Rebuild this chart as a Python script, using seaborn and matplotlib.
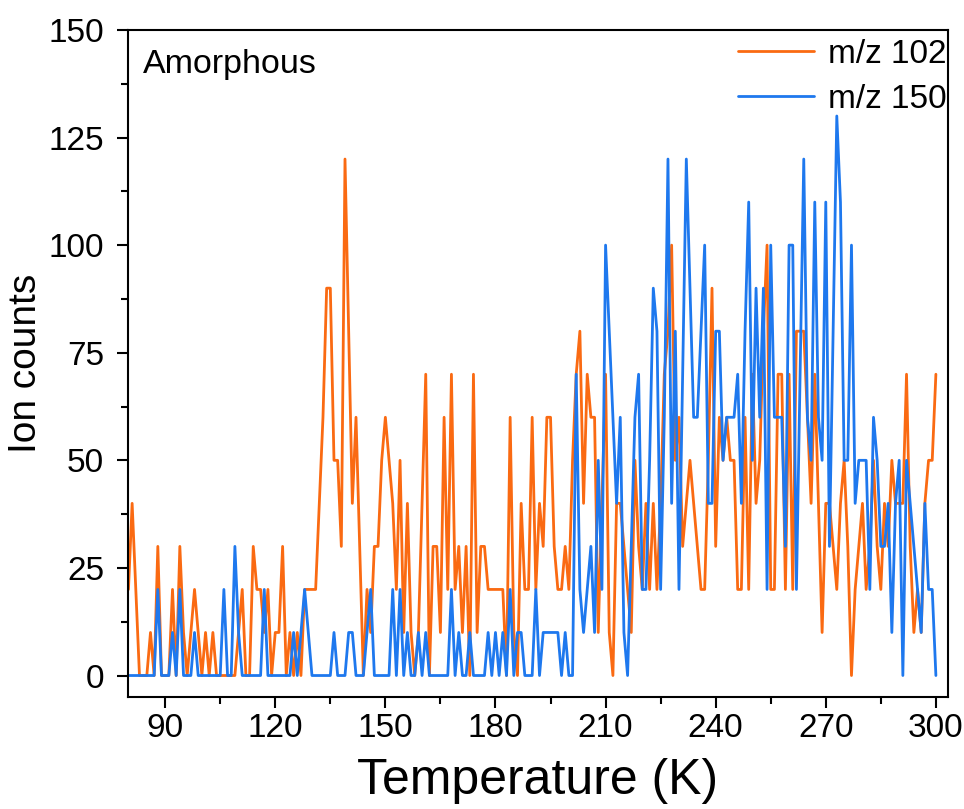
import matplotlib
matplotlib.use("Agg")
import numpy as np
import pandas as pd
import matplotlib.pyplot as plt
import seaborn as sns
from matplotlib.ticker import MultipleLocator

# temperature ramp, one reading per kelvin
temperature = list(range(80, 301))

# ion counts, 80 K ... 300 K
mz102 = [20, 40, 20, 0, 0, 0, 10, 0, 30, 0,
         0, 0, 20, 0, 30, 10, 0, 10, 20, 10,
         0, 10, 0, 10, 0, 0, 0, 0, 0, 0,
         10, 20, 0, 0, 30, 20, 20, 10, 20, 0,
         10, 10, 30, 0, 10, 0, 10, 0, 20, 20,
         20, 20, 40, 60, 90, 90, 50, 50, 30, 120,
         80, 40, 60, 30, 0, 20, 10, 30, 30, 50,
         60, 50, 40, 20, 50, 10, 40, 10, 0, 10,
         40, 70, 0, 30, 30, 10, 60, 20, 70, 20,
         30, 10, 30, 0, 70, 10, 30, 30, 20, 20,
         20, 20, 20, 0, 60, 10, 0, 40, 20, 20,
         60, 20, 40, 30, 60, 60, 30, 20, 20, 30,
         20, 50, 70, 80, 40, 70, 60, 60, 10, 40,
         70, 10, 0, 40, 40, 30, 20, 10, 50, 30,
         20, 40, 20, 40, 20, 40, 70, 80, 100, 50,
         60, 30, 40, 50, 40, 30, 20, 20, 50, 90,
         30, 60, 50, 60, 50, 50, 20, 20, 60, 20,
         70, 40, 50, 80, 100, 20, 20, 70, 70, 20,
         70, 20, 80, 80, 80, 60, 40, 70, 40, 10,
         40, 40, 30, 20, 40, 50, 30, 0, 20, 30,
         40, 20, 30, 50, 30, 20, 40, 30, 50, 40,
         40, 40, 70, 30, 10, 20, 10, 40, 50, 50,
         70]

mz150 = [0, 0, 0, 0, 0, 0, 0, 0, 20, 0,
         0, 0, 10, 0, 20, 0, 0, 0, 10, 0,
         0, 0, 0, 0, 0, 0, 20, 0, 0, 30,
         10, 0, 0, 0, 0, 0, 0, 20, 0, 0,
         0, 0, 0, 0, 0, 10, 0, 10, 20, 10,
         0, 0, 0, 0, 0, 0, 10, 0, 0, 0,
         10, 10, 0, 0, 0, 10, 20, 0, 0, 0,
         0, 0, 20, 0, 20, 0, 10, 0, 0, 10,
         0, 10, 0, 0, 0, 0, 0, 0, 20, 0,
         10, 0, 0, 10, 0, 0, 0, 0, 10, 0,
         10, 0, 10, 0, 20, 0, 10, 10, 0, 0,
         0, 20, 0, 10, 10, 10, 10, 10, 0, 10,
         0, 0, 70, 20, 10, 20, 30, 10, 50, 20,
         100, 80, 60, 40, 60, 10, 0, 30, 60, 70,
         20, 20, 50, 90, 80, 20, 60, 120, 40, 80,
         20, 70, 120, 90, 60, 60, 80, 100, 40, 40,
         80, 80, 50, 60, 60, 60, 70, 40, 80, 110,
         50, 90, 60, 90, 20, 100, 60, 60, 60, 30,
         100, 100, 20, 70, 120, 60, 50, 110, 60, 50,
         110, 30, 80, 130, 110, 50, 50, 100, 40, 50,
         50, 50, 20, 60, 50, 30, 30, 40, 10, 40,
         50, 0, 50, 40, 30, 20, 10, 40, 20, 20,
         0]

labels = ["m/z 102", "m/z 150"]
colors = ["#FA6A12", "#1E78EE"]

n = len(temperature)
df = pd.DataFrame({
    "Temperature": temperature * 2,
    "Counts": mz102 + mz150,
    "Series": [labels[0]] * n + [labels[1]] * n,
})

sns.set_style("ticks")
plt.rcParams["font.family"] = ["Liberation Sans", "DejaVu Sans"]
plt.rcParams["text.color"] = "black"
plt.rcParams["axes.labelcolor"] = "black"

fig = plt.figure(figsize=(9.64, 8.09), dpi=100)
ax = fig.add_axes([0.1325, 0.1384, 0.8509, 0.8246])

sns.lineplot(data=df, x="Temperature", y="Counts", hue="Series",
             palette=dict(zip(labels, colors)), estimator=None,
             linewidth=2.0, ax=ax)

ax.set_xlim(79.8, 303.3)
ax.set_ylim(-5, 150)
ax.xaxis.set_major_locator(MultipleLocator(30))
ax.xaxis.set_minor_locator(MultipleLocator(15))
ax.yaxis.set_major_locator(MultipleLocator(25))
ax.yaxis.set_minor_locator(MultipleLocator(12.5))
ax.tick_params(which="major", direction="out", length=8, width=1.5,
               labelsize=24, colors="black")
ax.tick_params(which="minor", direction="out", length=5, width=1.5,
               colors="black")
ax.tick_params(axis="y", which="major", pad=9)
for s in ax.spines.values():
    s.set_linewidth(1.5)
    s.set_color("black")

ax.set_xlabel("Temperature (K)", fontsize=36, labelpad=10)
ax.set_ylabel("Ion counts", fontsize=28, labelpad=3)

ax.text(0.019, 0.948, "Amorphous", transform=ax.transAxes,
        fontsize=24.5, va="center", ha="left")

leg = ax.legend(frameon=False, loc="upper right", bbox_to_anchor=(1.002, 0.992),
                fontsize=24, handlelength=2.3, handletextpad=0.4,
                borderaxespad=0.0, borderpad=0.1, labelspacing=0.42)
for line in leg.get_lines():
    line.set_linewidth(2.0)

fig.savefig("out.png", dpi=100)
